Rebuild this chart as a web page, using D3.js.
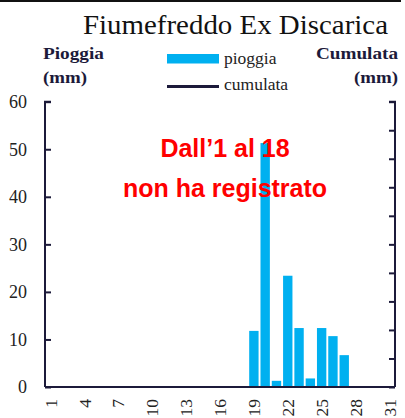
<!DOCTYPE html>
<html><head><meta charset="utf-8">
<script src="https://cdn.jsdelivr.net/npm/d3@7/dist/d3.min.js"></script>
<style>body{margin:0;background:#fff}svg{display:block}</style>
</head><body>
<script>
const days = [1,2,3,4,5,6,7,8,9,10,11,12,13,14,15,16,17,18,19,20,21,22,23,24,25,26,27,28,29,30,31];
const pioggia = [0,0,0,0,0,0,0,0,0,0,0,0,0,0,0,0,0,0,11.8,51.3,1.3,23.4,12.4,1.8,12.4,10.7,6.7,0,0,0,0];
const xTickLabels = [1,4,7,10,13,16,19,22,25,28,31];
const yTicks = [0,10,20,30,40,50,60];
const title = "Fiumefreddo Ex Discarica";
const note = ["Dall\u20191 al 18","non ha registrato"];

const W=405,H=418;
const svg=d3.select("body").append("svg").attr("width",W).attr("height",H);
const navy="#1c1a3a", serif="'Liberation Serif','Times New Roman',serif";
const m={l:45,r:395,t:101.7,b:387};
const x=d3.scaleBand().domain(days).range([m.l,m.r]).paddingInner(0.17).paddingOuter(0.08);
const y=d3.scaleLinear().domain([0,60]).range([m.b,m.t]);
const y2=d3.scaleLinear().domain([0,100]).range([m.b,m.t]);

// top frame line
svg.append("line").attr("x1",0).attr("x2",401).attr("y1",1).attr("y2",1).attr("stroke","#111").attr("stroke-width",2);

// bars
svg.append("g").selectAll("rect").data(days.map((d,i)=>({d,v:pioggia[i]})).filter(o=>o.v>0))
 .join("rect").attr("x",o=>x(o.d)).attr("width",x.bandwidth())
 .attr("y",o=>y(o.v)).attr("height",o=>y(0)-y(o.v)).attr("fill","#00b0f0");

// left axis
const gl=svg.append("g").attr("transform",`translate(${m.l},0)`)
 .call(d3.axisRight(y).tickValues(yTicks).tickSize(6).tickFormat(""));
gl.select(".domain").attr("d",`M6,${m.t}H0V${m.b}`);
gl.selectAll("path,line").attr("stroke",navy).attr("stroke-width",2);
svg.append("g").selectAll("text").data(yTicks).join("text")
 .attr("x",27).attr("y",d=>y(d)).attr("dy","0.35em").attr("text-anchor","end")
 .attr("font-family",serif).attr("font-size",18).attr("fill","#222").text(d=>d);

// right axis
const gr=svg.append("g").attr("transform",`translate(${m.r},0)`)
 .call(d3.axisLeft(y2).ticks(10).tickSize(6).tickFormat(""));
gr.select(".domain").attr("d",`M-6,${m.t}H0V${m.b}`);
gr.selectAll("path,line").attr("stroke",navy).attr("stroke-width",2);

// bottom axis
const gb=svg.append("g").attr("transform",`translate(0,${m.b})`)
 .call(d3.axisBottom(x).tickValues(xTickLabels).tickSize(0).tickFormat(""));
gb.select(".domain").attr("d",`M${m.l},0H${m.r}`).attr("stroke",navy).attr("stroke-width",2);
svg.append("g").selectAll("text").data(xTickLabels).join("text")
 .attr("transform",d=>`translate(${x(d)+x.bandwidth()/2},399) rotate(-90)`)
 .attr("text-anchor","end").attr("dy","0.35em")
 .attr("font-family",serif).attr("font-size",17.5).attr("fill","#222").text(d=>d);

// title
svg.append("text").attr("x",83).attr("y",34).attr("font-family",serif).attr("font-size",28)
 .attr("textLength",305).attr("lengthAdjust","spacingAndGlyphs").attr("fill","#111").text(title);

// axis titles
const bt=(t,xx,yy,anchor,len)=>svg.append("text").attr("x",xx).attr("y",yy).attr("text-anchor",anchor)
 .attr("font-family",serif).attr("font-weight","bold").attr("font-size",17).attr("fill",navy)
 .attr("textLength",len).attr("lengthAdjust","spacingAndGlyphs").text(t);
bt("Pioggia",43,59,"start",61);
bt("(mm)",43,83,"start",44);
bt("Cumulata",398,59,"end",82);
bt("(mm)",398,83,"end",44);

// legend
svg.append("rect").attr("x",167).attr("y",54).attr("width",52).attr("height",9.5).attr("fill","#00b0f0");
svg.append("text").attr("x",224).attr("y",64).attr("font-family",serif).attr("font-size",17.5).attr("fill","#222").text("pioggia");
svg.append("line").attr("x1",167).attr("x2",219).attr("y1",86.5).attr("y2",86.5).attr("stroke",navy).attr("stroke-width",3);
svg.append("text").attr("x",224).attr("y",90).attr("font-family",serif).attr("font-size",17.5).attr("fill","#222").text("cumulata");

// note
svg.append("g").selectAll("text").data(note).join("text")
 .attr("x",225).attr("y",(d,i)=>157+i*40).attr("text-anchor","middle")
 .attr("font-family","'Liberation Sans',Arial,sans-serif").attr("font-weight","bold").attr("font-size",25)
 .attr("fill","#ff0000").text(d=>d);
</script>
</body></html>
